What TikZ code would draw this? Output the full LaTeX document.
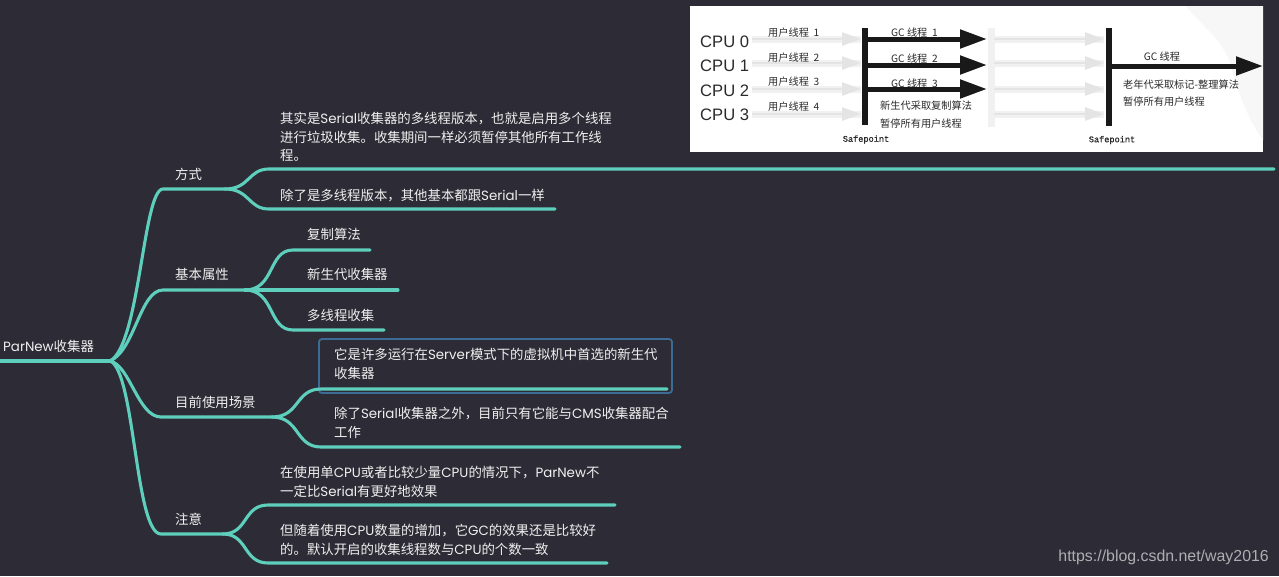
\documentclass[tikz,border=0pt]{standalone}
\usepackage{fontspec}
\usetikzlibrary{arrows.meta}
\setmainfont{Noto Sans CJK SC}
\newfontfamily\lat{Poppins}
\newfontfamily\arial{Liberation Sans}
\newfontfamily\mono{Liberation Mono}[FakeBold=1]
\definecolor{bgc}{HTML}{2D2B35}
\definecolor{teal1}{HTML}{5ECFBC}
\definecolor{boxblue}{HTML}{3C6C96}
\definecolor{fade}{HTML}{E4E4E4}
\definecolor{fadeb}{HTML}{F1F1F1}
\definecolor{inktext}{HTML}{2A2A2A}
\tikzset{
  x=1pt,y=-1pt,
  lbl/.style={anchor=west,inner sep=0pt,text=white!94!black,align=left,font=\fontsize{13.4}{18.6}\selectfont},
  branch/.style={draw=teal1,line width=3.1pt,line cap=round},
  cpu/.style={anchor=west,inner sep=0pt,text=inktext,font=\arial\fontsize{16.6}{18}\selectfont},
  small/.style={anchor=west,inner sep=0pt,text=inktext,font=\fontsize{10.2}{11}\selectfont},
  safe/.style={anchor=center,inner sep=0pt,text=inktext,font=\mono\fontsize{8.6}{10}\selectfont},
  barline/.style={draw=black!90,line width=6.5pt},
  gcarrow/.style={draw=black!90,line width=5pt,-{Triangle[length=27pt,width=18pt]}},
  fadearrow/.style={draw=fade,line width=2.5pt,-{Triangle[length=19pt,width=13pt]}},
  fadehalo/.style={draw=fadeb,line width=7pt},
}
\begin{document}
\begin{tikzpicture}
\useasboundingbox (0,0) rectangle (1279,576);
\fill[bgc] (0,0) rectangle (1279,576);

% inset picture
\fill[white] (690,6) rectangle (1263,152);
\fill[black!3] (1186,6) .. controls (1205,30) and (1225,40) .. (1232,70) .. controls (1240,100) and (1252,125) .. (1263,140) -- (1263,6) -- cycle;
\coordinate (b1t) at (865,28); \coordinate (b1b) at (865,125);
\coordinate (b2t) at (1109,28); \coordinate (b2b) at (1109,126);
\coordinate (b3t) at (991,28); \coordinate (b3b) at (991,127);
\draw[draw=fadeb,line width=7pt] (b3t) -- (b3b);
\foreach \n/\y in {a/39,b/63,c/89,d/114}{
  \coordinate (f\n1) at (752,\y); \coordinate (f\n2) at (861,\y);
  \coordinate (g\n1) at (994,\y); \coordinate (g\n2) at (1104,\y);
  \draw[fadehalo] (f\n1) -- (f\n2);
  \draw[fadehalo] (g\n1) -- (g\n2);
  \draw[fadearrow] (f\n1) -- (f\n2);
  \draw[fadearrow] (g\n1) -- (g\n2);
}
\node[cpu] (cpu0) at (700,42) {CPU 0};
\node[cpu] (cpu1) at (700,66) {CPU 1};
\node[cpu] (cpu2) at (700,91) {CPU 2};
\node[cpu] (cpu3) at (700,115) {CPU 3};
\node[small] (u1) at (768,33) {用户线程\ \ 1};
\node[small] (u2) at (768,58) {用户线程\ \ 2};
\node[small] (u3) at (768,82) {用户线程\ \ 3};
\node[small] (u4) at (768,107) {用户线程\ \ 4};
\node[small] (gc1) at (891,33) {GC 线程\ \ 1};
\node[small] (gc2) at (891,59) {GC 线程\ \ 2};
\node[small] (gc3) at (891,84) {GC 线程\ \ 3};
\node[small] (xs1) at (880,106) {新生代采取复制算法};
\node[small] (xs2) at (880,124) {暂停所有用户线程};
\node[small,anchor=center] (gcold) at (1162,57) {GC 线程};
\node[small] (old1) at (1123,85) {老年代采取标记-整理算法};
\node[small] (old2) at (1123,102) {暂停所有用户线程};
\node[safe] (sp1) at (866,139.5) {Safepoint};
\node[safe] (sp2) at (1112,140) {Safepoint};
\draw[barline] (b1t) -- (b1b);
\draw[barline] (b2t) -- (b2b);
\foreach \n/\y in {a/39,b/65,c/89}{
  \coordinate (s\n) at (865,\y); \coordinate (e\n) at (987,\y);
  \draw[gcarrow] (s\n) -- (e\n);
}
\coordinate (s2) at (1109,66); \coordinate (e2) at (1263,66);
\draw[gcarrow] (s2) -- (e2);

% highlight
\draw[boxblue,line width=1.8pt,rounded corners=3pt] (319,339) rectangle (672,393);

% mind map skeleton
\coordinate (r0) at (0,361); \coordinate (rj) at (110,361);
\coordinate (m1a) at (163,189); \coordinate (m1b) at (225,189);
\coordinate (m2a) at (163,290); \coordinate (m2b) at (245,290);
\coordinate (m3a) at (161,417); \coordinate (m3b) at (272,417);
\coordinate (m4a) at (161,534); \coordinate (m4b) at (223,534);
\coordinate (c11a) at (269,169); \coordinate (c11b) at (1274,169);
\coordinate (c12a) at (269,209); \coordinate (c12b) at (555,209);
\coordinate (c21a) at (293,250); \coordinate (c21b) at (370,250);
\coordinate (c22b) at (398,290);
\coordinate (c23a) at (293,330); \coordinate (c23b) at (384,330);
\coordinate (c31a) at (321,389); \coordinate (c31b) at (667,389);
\coordinate (c32a) at (321,447); \coordinate (c32b) at (680,447);
\coordinate (c41a) at (268,505); \coordinate (c41b) at (615,505);
\coordinate (c42a) at (268,563); \coordinate (c42b) at (607,563);

\draw[branch] (r0) -- (rj);
\draw[branch] (rj) .. controls (140,345) and (143,189) .. (m1a) -- (m1b);
\draw[branch] (rj) .. controls (135,350) and (140,290) .. (m2a) -- (m2b);
\draw[branch] (rj) .. controls (130,365) and (138,417) .. (m3a) -- (m3b);
\draw[branch] (rj) .. controls (135,370) and (135,534) .. (m4a) -- (m4b);
\draw[branch] (m1b) .. controls (250,189) and (248,169) .. (c11a) -- (c11b);
\draw[branch] (m1b) .. controls (250,189) and (248,209) .. (c12a) -- (c12b);
\draw[branch] (m2b) .. controls (275,290) and (268,250) .. (c21a) -- (c21b);
\draw[branch] (m2b) -- (c22b);
\draw[branch] (m2b) .. controls (275,290) and (268,330) .. (c23a) -- (c23b);
\draw[branch] (m3b) .. controls (300,417) and (295,389) .. (c31a) -- (c31b);
\draw[branch] (m3b) .. controls (300,417) and (295,447) .. (c32a) -- (c32b);
\draw[branch] (m4b) .. controls (248,534) and (243,505) .. (c41a) -- (c41b);
\draw[branch] (m4b) .. controls (248,534) and (243,563) .. (c42a) -- (c42b);

% labels
\node[lbl] (root) at (3,346.5) {{\lat ParNew}收集器};
\node[lbl] (t1) at (175,174.5) {方式};
\node[lbl] (t2) at (175,274.5) {基本属性};
\node[lbl] (t3) at (175,402.5) {目前使用场景};
\node[lbl] (t4) at (175,519.5) {注意};
\node[lbl] (t11) at (280,137) {其实是{\lat Serial}收集器的多线程版本，也就是启用多个线程\\进行垃圾收集。收集期间一样必须暂停其他所有工作线\\程。};
\node[lbl] (t12) at (280,195.5) {除了是多线程版本，其他基本都跟{\lat Serial}一样};
\node[lbl] (t21) at (307,234.5) {复制算法};
\node[lbl] (t22) at (307,274.5) {新生代收集器};
\node[lbl] (t23) at (307,315.5) {多线程收集};
\node[lbl] (t31) at (334,364) {它是许多运行在{\lat Server}模式下的虚拟机中首选的新生代\\收集器};
\node[lbl] (t32) at (334,423) {除了{\lat Serial}收集器之外，目前只有它能与{\lat CMS}收集器配合\\工作};
\node[lbl] (t41) at (280,482) {在使用单{\lat CPU}或者比较少量{\lat CPU}的情况下，{\lat ParNew}不\\一定比{\lat Serial}有更好地效果};
\node[lbl] (t42) at (280,540) {但随着使用{\lat CPU}数量的增加，它{\lat GC}的效果还是比较好\\的。默认开启的收集线程数与{\lat CPU}的个数一致};
\node[anchor=east,inner sep=0pt,text=white!62!bgc,font=\arial\fontsize{15.9}{18}\selectfont] (wm) at (1269,557) {https://blog.csdn.net/way2016};
\end{tikzpicture}
\end{document}
